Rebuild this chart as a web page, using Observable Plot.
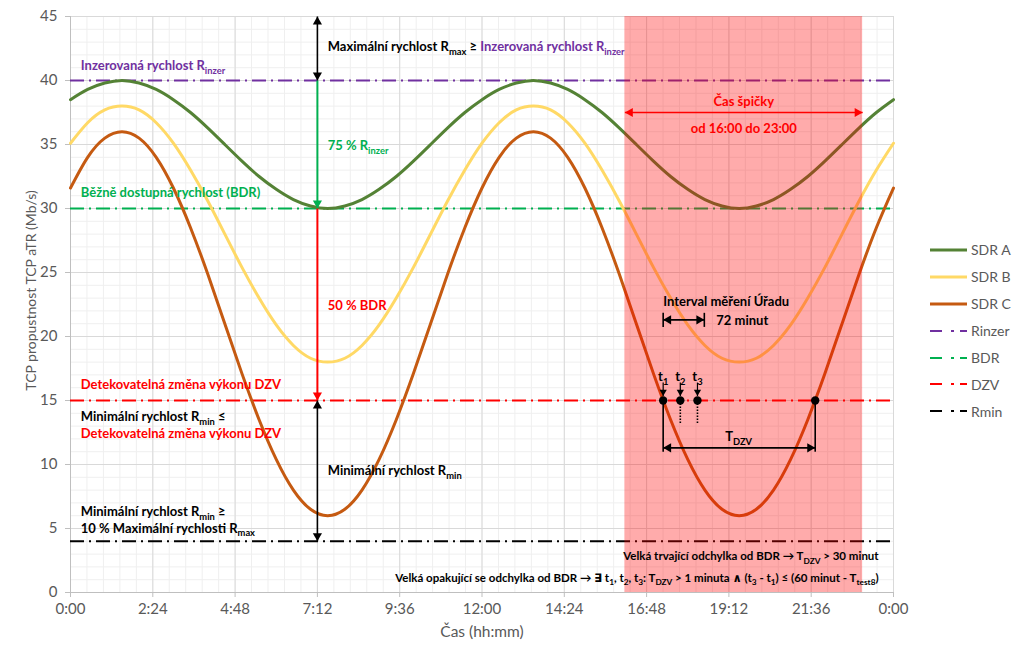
<!DOCTYPE html>
<html lang="cs">
<head>
<meta charset="utf-8">
<script src="https://cdn.jsdelivr.net/npm/d3@7"></script>
<script src="https://cdn.jsdelivr.net/npm/@observablehq/plot@0.6"></script>
<style>
  html,body{margin:0;padding:0;background:#fff;}
  #wrap{position:relative;width:1024px;height:662px;font-family:Lato,"DejaVu Sans",sans-serif;}
  #legend{position:absolute;left:930px;top:236.5px;color:#595959;font-size:14px;font-family:Lato,sans-serif;}
  #legend .row{display:flex;align-items:center;height:26.9px;}
  #legend svg{margin-right:4px;}
</style>
</head>
<body>
<div id="wrap"></div>
<script>
// ---- data (time in minutes since midnight) ----
const times = [0,30,60,90,120,150,180,210,240,270,300,330,360,390,420,450,480,510,540,570,600,630,660,690,
  720,750,780,810,840,870,900,930,960,990,1020,1050,1080,1110,1140,1170,1200,1230,1260,1290,1320,1350,1380,1410,1440];
const sdrA = [38.5,39.3,39.8,40.0,39.8,39.3,38.5,37.5,36.3,35.0,33.7,32.5,31.5,30.7,30.2,30.0,30.2,30.7,31.5,32.5,33.7,35.0,36.3,37.5,
  38.5,39.3,39.8,40.0,39.8,39.3,38.5,37.5,36.3,35.0,33.7,32.5,31.5,30.7,30.2,30.0,30.2,30.7,31.5,32.5,33.7,35.0,36.3,37.5,38.5];
const sdrB = [35.1,36.7,37.7,38.0,37.7,36.7,35.1,33.0,30.6,28.0,25.4,23.0,20.9,19.3,18.3,18.0,18.3,19.3,20.9,23.0,25.4,28.0,30.6,33.0,
  35.1,36.7,37.7,38.0,37.7,36.7,35.1,33.0,30.6,28.0,25.4,23.0,20.9,19.3,18.3,18.0,18.3,19.3,20.9,23.0,25.4,28.0,30.6,33.0,35.1];
const sdrC = [31.6,34.0,35.5,36.0,35.5,34.0,31.6,28.5,24.9,21.0,17.1,13.5,10.4,8.0,6.5,6.0,6.5,8.0,10.4,13.5,17.1,21.0,24.9,28.5,
  31.6,34.0,35.5,36.0,35.5,34.0,31.6,28.5,24.9,21.0,17.1,13.5,10.4,8.0,6.5,6.0,6.5,8.0,10.4,13.5,17.1,21.0,24.9,28.5,31.6];
const seriesNames = ["SDR A","SDR B","SDR C"];
const seriesColors = ["#548235","#FFD966","#C55A11"];

const refNames = ["Rinzer","BDR","DZV","Rmin"];
const refValues = [40,30,15,4];
const refColors = ["#7030A0","#00B050","#FF0000","#000000"];

const tickMinutes = [0,144,288,432,576,720,864,1008,1152,1296,1440];
const tickLabels = ["0:00","2:24","4:48","7:12","9:36","12:00","14:24","16:48","19:12","21:36","0:00"];
const yTicks = [0,5,10,15,20,25,30,35,40,45];

const peakStart = 970, peakEnd = 1386;          // shaded peak-hour band
const markTime = 432;                           // 7:12 annotation arrows
const crossTimes = [1037,1067,1097];            // t1, t2, t3
const crossEnd = 1303;                          // end of T_DZV
const intervalLen = 72;                         // minutes

// arrows: x1,y1,x2,y2 in data units
const arrows = [
  {x1:markTime,y1:45,x2:markTime,y2:40,color:"#000000",w:1.6,both:true},
  {x1:markTime,y1:40,x2:markTime,y2:30,color:"#00B050",w:2,both:false},
  {x1:markTime,y1:30,x2:markTime,y2:15,color:"#FF0000",w:2,both:false},
  {x1:markTime,y1:15,x2:markTime,y2:4,color:"#000000",w:1.6,both:true},
  {x1:peakStart,y1:37.5,x2:peakEnd,y2:37.5,color:"#FF0000",w:1.6,both:true},
  {x1:crossTimes[0],y1:21.3,x2:crossTimes[0]+intervalLen,y2:21.3,color:"#000000",w:1.6,both:true},
  {x1:crossTimes[0],y1:11.3,x2:crossEnd,y2:11.3,color:"#000000",w:1.6,both:true},
  {x1:crossTimes[0],y1:16.4,x2:crossTimes[0],y2:15.35,color:"#000000",w:1.2,both:false,small:true},
  {x1:crossTimes[1],y1:16.4,x2:crossTimes[1],y2:15.35,color:"#000000",w:1.2,both:false,small:true},
  {x1:crossTimes[2],y1:16.4,x2:crossTimes[2],y2:15.35,color:"#000000",w:1.2,both:false,small:true}
];
// plain segments
const segments = [
  {x1:crossTimes[0],y1:20.75,x2:crossTimes[0],y2:21.85,dash:null},
  {x1:crossTimes[0]+intervalLen,y1:20.75,x2:crossTimes[0]+intervalLen,y2:21.85,dash:null},
  {x1:crossTimes[0],y1:15,x2:crossTimes[0],y2:11.0,dash:null},
  {x1:crossEnd,y1:15,x2:crossEnd,y2:11.0,dash:null},
  {x1:crossTimes[1],y1:15,x2:crossTimes[1],y2:13.2,dash:"1.5,1.5"},
  {x1:crossTimes[2],y1:15,x2:crossTimes[2],y2:13.2,dash:"1.5,1.5"}
];
const dotTimes = [crossTimes[0],crossTimes[1],crossTimes[2],crossEnd];

// annotation texts ( _{..} = subscript, [#rrggbb:..] = coloured run )
const PURPLE="#7030A0", GREEN="#00B050", RED="#FF0000", BLACK="#000000";
const textsStart = [
  {x:450,y:42.6,t:"Maximální rychlost R_{max} ≥ [#7030A0:Inzerovaná rychlost R_{inzer}]",c:BLACK},
  {x:18,y:41.15,t:"Inzerovaná rychlost R_{inzer}",c:PURPLE},
  {x:450,y:34.9,t:"75 % R_{inzer}",c:GREEN},
  {x:18,y:31.25,t:"Běžně dostupná rychlost (BDR)",c:GREEN},
  {x:450,y:22.4,t:"50 % BDR",c:RED},
  {x:18,y:16.2,t:"Detekovatelná změna výkonu DZV",c:RED},
  {x:18,y:13.7,t:"Minimální rychlost R_{min} ≤",c:BLACK},
  {x:18,y:12.4,t:"Detekovatelná změna výkonu DZV",c:RED},
  {x:450,y:9.5,t:"Minimální rychlost R_{min}",c:BLACK},
  {x:18,y:6.3,t:"Minimální rychlost R_{min} ≥",c:BLACK},
  {x:18,y:5.0,t:"10 % Maximální rychlosti R_{max}",c:BLACK},
  {x:1037,y:22.7,t:"Interval měření Úřadu",c:BLACK},
  {x:1130,y:21.2,t:"72 minut",c:BLACK}
];
const textsMiddle = [
  {x:1178,y:38.3,t:"Čas špičky",c:RED},
  {x:1178,y:36.25,t:"od 16:00 do 23:00",c:RED},
  {x:crossTimes[0],y:16.85,t:"t_{1}",c:BLACK},
  {x:crossTimes[1],y:16.85,t:"t_{2}",c:BLACK},
  {x:crossTimes[2],y:16.85,t:"t_{3}",c:BLACK},
  {x:1169,y:12.15,t:"T_{DZV}",c:BLACK}
];
const textsEnd = [
  {x:1414,y:2.8,t:"Velká trvající odchylka od BDR → T_{DZV} > 30 minut",c:BLACK},
  {x:1414,y:1.1,t:"Velká opakující se odchylka od BDR → ∃ t_{1}, t_{2}, t_{3}: T_{DZV} > 1 minuta ∧ (t_{3} - t_{1}) ≤ (60 minut - T_{test8})",c:BLACK}
];

// ---- build ----
const FONT = "Lato, 'DejaVu Sans', sans-serif";
const ANN = 13;
const seriesMarks = seriesNames.map((name,k) => {
  const vals = [sdrA,sdrB,sdrC][k];
  return Plot.line(times.map((t,i)=>({t, v: vals[i]})), {x:"t", y:"v", stroke: seriesColors[k], strokeWidth:3, curve:"natural"});
});
const refMarks = refValues.map((v,k) => Plot.ruleY([v], {stroke: refColors[k], strokeWidth:2, strokeDasharray:"14,5,2,5"}));

// arrowheads
const heads = [];
arrows.forEach(a => {
  let endDir, startDir;
  if (a.x1 === a.x2) { endDir = a.y2 < a.y1 ? "down" : "up"; startDir = endDir === "down" ? "up" : "down"; }
  else { endDir = a.x2 > a.x1 ? "right" : "left"; startDir = endDir === "right" ? "left" : "right"; }
  heads.push({x:a.x2, y:a.y2, dir:endDir, color:a.color, small:!!a.small});
  if (a.both) heads.push({x:a.x1, y:a.y1, dir:startDir, color:a.color, small:false});
});
const R = 3.4, RS = 2.7;
const headMark = (dir, rot, small) => {
  const r = small ? RS : R, off = 1.555 * r;
  const o = {down:[0,-off], up:[0,off], right:[-off,0], left:[off,0]}[dir];
  return Plot.dot(heads.filter(h => h.dir === dir && h.small === small),
    {x:"x", y:"y", r, symbol:"triangle", rotate: rot, fill: d => d.color, stroke:null, dx:o[0], dy:o[1]});
};

const textMark = (data, anchor, size) => Plot.text(data, {x:"x", y:"y", text:"t", fill: d => d.c, textAnchor: anchor,
  fontWeight:"bold", fontSize: size, fontFamily: FONT});

const chart = Plot.plot({
  width:1024, height:662,
  marginLeft:70, marginRight:131, marginTop:16, marginBottom:70,
  style:{fontFamily:FONT, background:"#fff", color:"#595959", overflow:"visible"},
  x:{domain:[0,1440]},
  y:{domain:[0,45]},
  color:{type:"identity"},
  marks:[
    // grid
    Plot.ruleX(d3.range(0,1440.1,28.8), {stroke:"#efefef", strokeWidth:1}),
    Plot.ruleY(d3.range(0,45.1,1), {stroke:"#efefef", strokeWidth:1}),
    Plot.ruleX(tickMinutes, {stroke:"#d9d9d9", strokeWidth:1}),
    Plot.ruleY(yTicks, {stroke:"#d9d9d9", strokeWidth:1}),
    Plot.ruleX([0], {stroke:"#bfbfbf"}),
    Plot.ruleY([0], {stroke:"#bfbfbf"}),
    // axes
    Plot.axisX(tickMinutes, {tickFormat: d => tickLabels[tickMinutes.indexOf(d)], tickSize:5, tickPadding:6,
      fontSize:15, stroke:"#bfbfbf", fill:"#595959", label:null}),
    Plot.axisY(yTicks, {tickSize:5, tickPadding:8, fontSize:15, stroke:"#bfbfbf", fill:"#595959", label:null}),
    Plot.text(["Čas (hh:mm)"], {text:d=>d, frameAnchor:"bottom", dy:44, fontSize:15.5, fill:"#595959"}),
    Plot.text(["TCP propustnost TCP aTR (Mb/s)"], {text:d=>d, frameAnchor:"left", textAnchor:"middle", dx:-39, dy:-14, rotate:-90, fontSize:14, fill:"#595959"}),
    // reference lines and series
    ...refMarks,
    ...seriesMarks,
    // peak-hour band
    Plot.rect([{a:peakStart,b:peakEnd}], {x1:"a", x2:"b", y1:0, y2:45, fill:"#FF0000", fillOpacity:0.33}),
    // annotation lines
    Plot.link(arrows, {x1:"x1", y1:"y1", x2:"x2", y2:"y2", stroke: d => d.color, strokeWidth: d => d.w}),
    Plot.link(segments.filter(s=>!s.dash), {x1:"x1", y1:"y1", x2:"x2", y2:"y2", stroke:"#000", strokeWidth:1.6}),
    Plot.link(segments.filter(s=>s.dash), {x1:"x1", y1:"y1", x2:"x2", y2:"y2", stroke:"#000", strokeWidth:1.6, strokeDasharray:"1.5,1.5"}),
    headMark("down",180,false), headMark("up",0,false), headMark("right",90,false), headMark("left",-90,false),
    headMark("down",180,true),
    Plot.dot(dotTimes, {x:d=>d, y:15, r:4.2, fill:"#000", stroke:null}),
    textMark(textsStart,"start",ANN), textMark(textsMiddle,"middle",ANN), textMark(textsEnd,"end",11.5)
  ]
});

const wrap = document.getElementById("wrap");
wrap.appendChild(chart);

// rich text: subscripts and coloured runs
function richify(svg){
  const NS = "http://www.w3.org/2000/svg";
  svg.querySelectorAll("text").forEach(el => {
    const s = el.textContent;
    if (!/_\{|\[#/.test(s)) return;
    const fs = parseFloat(getComputedStyle(el).fontSize) || ANN;
    const shift = fs * 0.28;
    while (el.firstChild) el.removeChild(el.firstChild);
    const segs = [];
    const reC = /\[(#[0-9A-Fa-f]{6}):([^\]]*)\]/g;
    let last = 0, m;
    while ((m = reC.exec(s))) {
      if (m.index > last) segs.push({txt:s.slice(last, m.index), color:null});
      segs.push({txt:m[2], color:m[1]});
      last = reC.lastIndex;
    }
    if (last < s.length) segs.push({txt:s.slice(last), color:null});
    let lowered = false;
    segs.forEach(seg => {
      seg.txt.split(/_\{([^}]*)\}/).forEach((p, i) => {
        if (!p) return;
        const sub = i % 2 === 1;
        const t = document.createElementNS(NS, "tspan");
        t.textContent = p;
        if (seg.color) t.setAttribute("fill", seg.color);
        if (sub) {
          t.setAttribute("font-size", (fs * 0.72).toFixed(2));
          if (!lowered) { t.setAttribute("dy", shift.toFixed(2)); lowered = true; }
        } else if (lowered) { t.setAttribute("dy", (-shift).toFixed(2)); lowered = false; }
        el.appendChild(t);
      });
    });
  });
}
richify(chart);

// legend
const legendNames = seriesNames.concat(refNames);
const legendColors = seriesColors.concat(refColors);
const legend = d3.select(wrap).append("div").attr("id","legend");
legendNames.forEach((n, i) => {
  const row = legend.append("div").attr("class","row");
  const s = row.append("svg").attr("width",37).attr("height",10);
  s.append("line").attr("x1",0).attr("x2",37).attr("y1",5).attr("y2",5)
    .attr("stroke", legendColors[i]).attr("stroke-width", i < 3 ? 3 : 2)
    .attr("stroke-dasharray", i < 3 ? null : "12,9,3,6");
  row.append("span").text(n);
});
</script>
</body>
</html>
